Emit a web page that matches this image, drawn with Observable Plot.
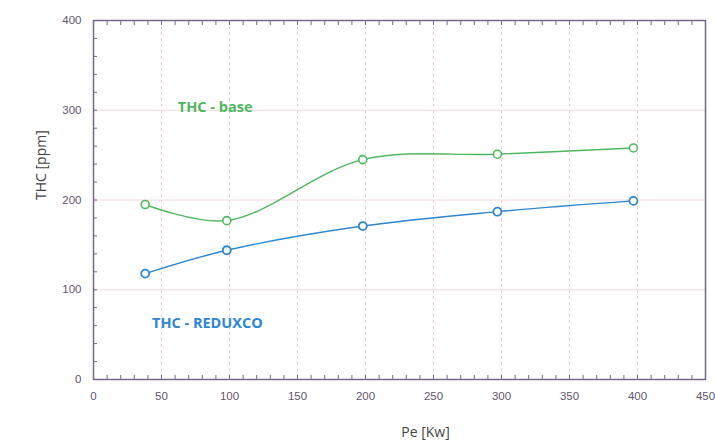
<!DOCTYPE html>
<html><head><meta charset="utf-8">
<script src="https://cdn.jsdelivr.net/npm/d3@7"></script>
<script src="https://cdn.jsdelivr.net/npm/@observablehq/plot@0.6"></script>
<style>body{margin:0;background:#fff;} #c{position:absolute;left:0;top:0;}</style>
</head><body><div id="c"></div>
<script>
const pe = [38, 98, 198, 297, 397];
const thcBase = [195, 177, 245, 251, 258];
const thcReduxco = [118, 144, 171, 187, 199];
const xTicks = [0, 50, 100, 150, 200, 250, 300, 350, 400, 450];
const yTicks = [0, 100, 200, 300, 400];
const seriesLabels = ["THC - base", "THC - REDUXCO"];

const green = "#4db860", blue = "#2c86d2", frameCol = "#76688a", tickText = "#5f5470";
const base = pe.map((x, i) => ({x, y: thcBase[i]}));
const red = pe.map((x, i) => ({x, y: thcReduxco[i]}));

const chart = Plot.plot({
  width: 715, height: 441,
  marginLeft: 93, marginRight: 10, marginTop: 20, marginBottom: 62,
  style: {fontFamily: "Liberation Sans, Arial, sans-serif", fontSize: "11px", background: "white"},
  x: {domain: [0, 450]},
  y: {domain: [0, 400]},
  marks: [
    Plot.gridX(xTicks, {stroke: "#eccfd4", strokeOpacity: 1, strokeDasharray: "3,3"}),
    Plot.gridY(yTicks, {stroke: "#f0d8da", strokeOpacity: 1}),
    Plot.axisX(d3.range(0, 451, 10), {tickSize: -4, text: null, stroke: frameCol, label: null}),
    Plot.axisX(d3.range(0, 451, 10), {anchor: "top", tickSize: -4, text: null, stroke: frameCol, label: null}),
    Plot.axisY(d3.range(0, 401, 20), {tickSize: -4, text: null, stroke: frameCol, label: null}),
    Plot.axisX(xTicks, {tickSize: 0, tickPadding: 12, fill: tickText, fontSize: 11.5, label: null}),
    Plot.axisY(yTicks, {tickSize: 0, tickPadding: 12, fill: tickText, fontSize: 11.5, label: null}),
    Plot.frame({stroke: frameCol, strokeWidth: 1.5}),
    Plot.line(base, {x: "x", y: "y", stroke: green, strokeWidth: 1.4, curve: "catmull-rom"}),
    Plot.line(red, {x: "x", y: "y", stroke: blue, strokeWidth: 1.4, curve: "catmull-rom"}),
    Plot.dot(base, {x: "x", y: "y", r: 4, stroke: green, strokeWidth: 1.6, fill: "white"}),
    Plot.dot(red, {x: "x", y: "y", r: 4, stroke: blue, strokeWidth: 1.8, fill: "white"}),
    Plot.text([seriesLabels[0]], {x: 62, y: 303, text: d => d, fill: green, fontWeight: "bold", fontSize: 14.5, fontFamily: "Open Sans", textAnchor: "start"}),
    Plot.text([seriesLabels[1]], {x: 43, y: 63, text: d => d, fill: blue, fontWeight: "bold", fontSize: 14.5, fontFamily: "Open Sans", textAnchor: "start"}),
    Plot.text(["THC [ppm]"], {x: 0, y: 200, text: d => d, frameAnchor: "left", dx: -52, rotate: -90, fill: "#444", fontSize: 14, fontFamily: "Open Sans"}),
    Plot.text(["Pe [Kw]"], {x: 225, y: 0, text: d => d, dx: 26, dy: 53, fill: "#444", fontSize: 14, fontFamily: "Open Sans"})
  ]
});
document.getElementById("c").appendChild(chart);
</script></body></html>
